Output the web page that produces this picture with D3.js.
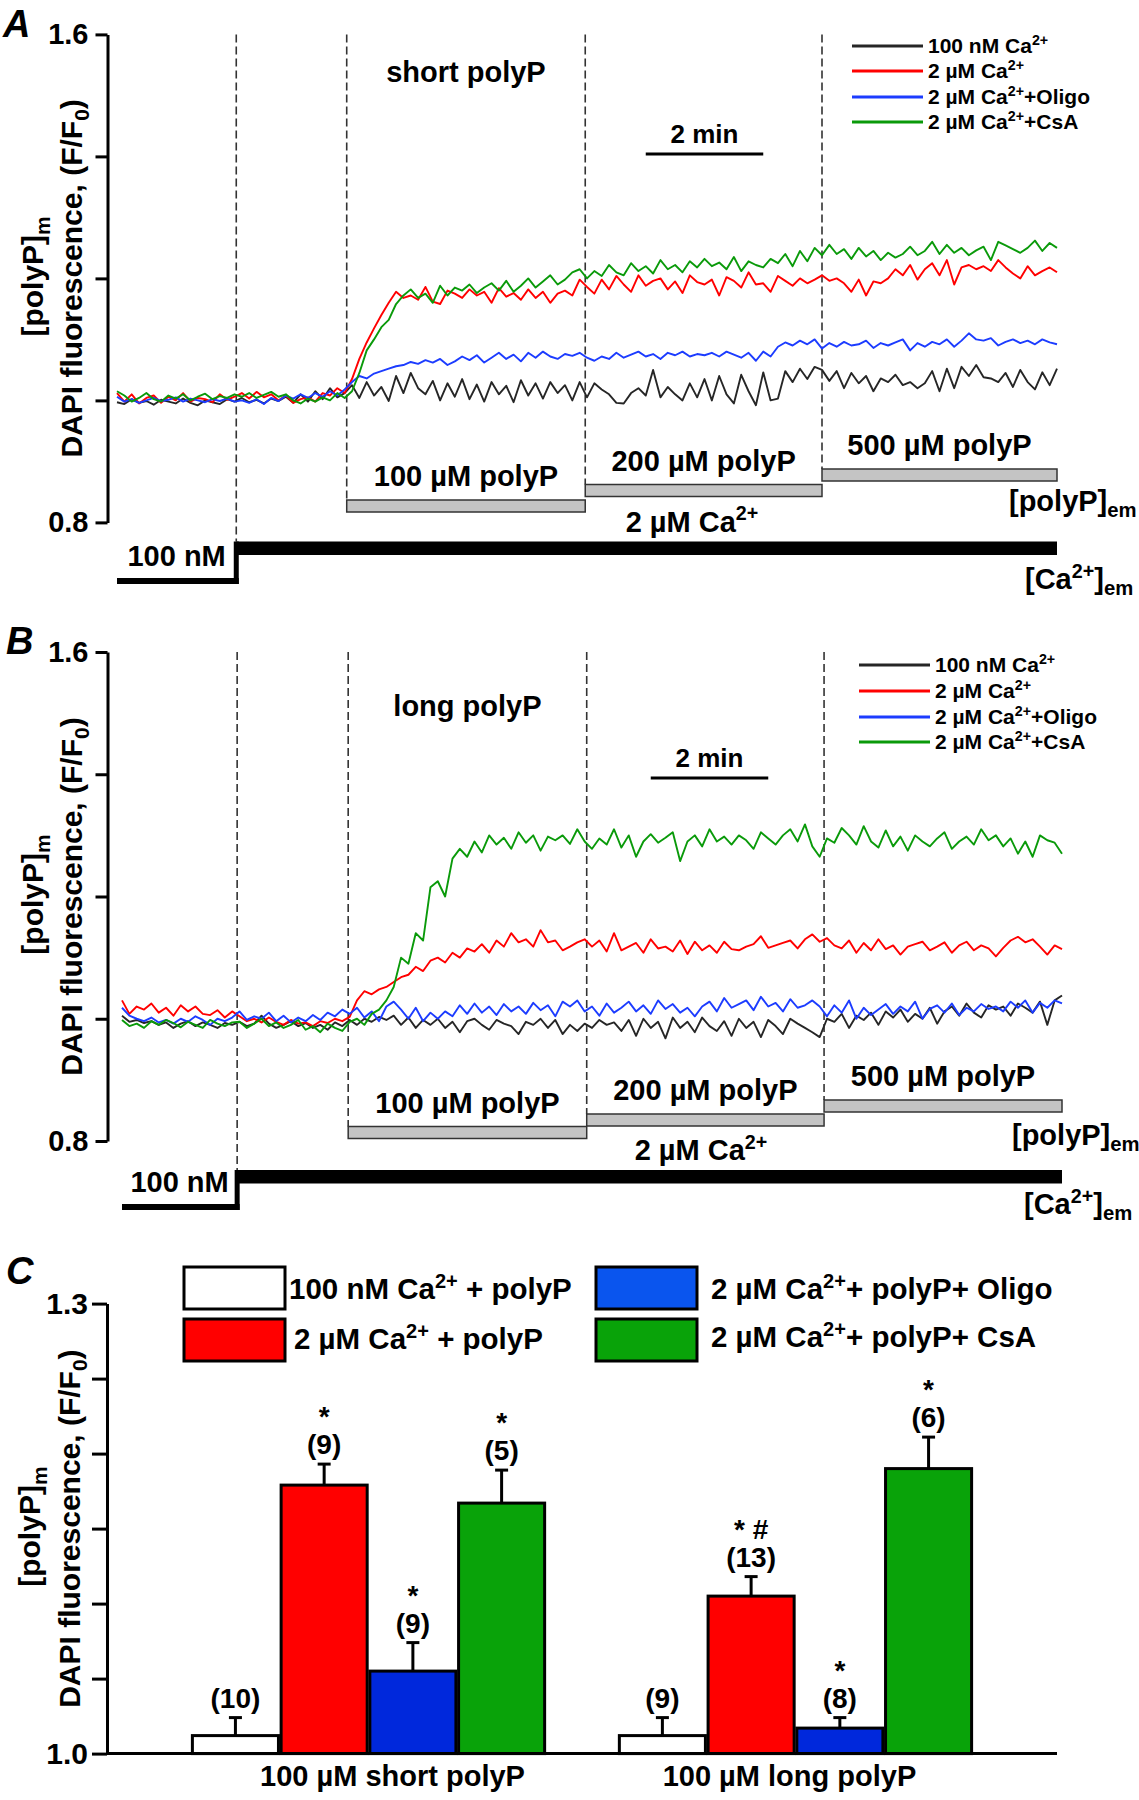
<!DOCTYPE html>
<html><head><meta charset="utf-8">
<script src="https://cdn.jsdelivr.net/npm/d3@7"></script>
<style>body{margin:0;background:#fff}</style>
</head><body>
<svg id="fig" width="1139" height="1800"></svg>
<script>
// ---------------- DATA ----------------
// sampling grid (minutes), 7.5 s steps over 16 min
const sampleTimes = d3.range(0, 16.0001, 0.125);

const traceNames = ["100 nM Ca^{2+}", "2 µM Ca^{2+}", "2 µM Ca^{2+}+Oligo", "2 µM Ca^{2+}+CsA"];
const polyPLabels = ["100 µM polyP", "200 µM polyP", "500 µM polyP"];
// event times (min): Ca switch, 100, 200, 500 µM polyP, end
const eventTimesA = [2.03, 3.91, 7.97, 12.0, 16.0];
const eventTimesB = [1.96, 3.85, 7.91, 11.95, 16.0];
const yTicksAB = [0.8, 1.0, 1.2, 1.4, 1.6];

// Panel A (short polyP), F/F0
const blackA = [
0.997,0.994,1.002,0.996,0.999,0.993,1.001,0.998,0.995,1.003,0.996,0.992,1.000,0.997,0.994,1.002,
0.998,1.004,0.997,1.001,0.995,1.003,0.999,1.006,0.996,1.010,0.998,1.015,1.002,1.020,1.005,1.012,
1.025,1.004,1.030,1.008,1.022,0.999,1.040,1.012,1.045,1.020,1.010,1.032,1.000,1.028,1.006,1.035,
1.002,1.026,0.998,1.030,1.010,1.024,0.997,1.033,1.008,1.028,1.003,1.030,1.012,1.025,1.000,1.030,
1.005,1.028,1.018,1.010,0.996,0.995,1.012,1.020,1.008,1.050,1.005,1.022,1.010,1.000,1.028,1.005,
1.035,1.000,1.040,1.010,0.995,1.042,1.015,0.992,1.046,1.000,1.003,1.048,1.030,1.052,1.035,1.055,
1.050,1.032,1.048,1.020,1.045,1.028,1.040,1.015,1.036,1.030,1.042,1.025,1.030,1.020,1.028,1.048,
1.015,1.052,1.020,1.055,1.040,1.058,1.038,1.036,1.030,1.045,1.022,1.050,1.030,1.018,1.046,1.025,
1.052];
const redA = [
1.012,0.998,1.010,0.995,1.004,1.008,0.996,1.006,1.000,1.012,0.998,1.004,1.002,0.997,1.010,1.001,
1.006,1.012,1.003,1.014,1.005,1.010,1.000,1.008,0.996,1.002,1.005,0.998,1.012,1.008,1.020,1.012,
1.035,1.068,1.095,1.118,1.140,1.160,1.178,1.168,1.172,1.165,1.186,1.162,1.158,1.180,1.175,1.168,
1.182,1.172,1.178,1.160,1.184,1.170,1.176,1.165,1.182,1.168,1.178,1.160,1.175,1.180,1.172,1.198,
1.186,1.175,1.198,1.182,1.204,1.190,1.178,1.205,1.188,1.196,1.200,1.182,1.195,1.176,1.205,1.194,
1.190,1.198,1.172,1.202,1.196,1.185,1.210,1.190,1.192,1.178,1.204,1.196,1.188,1.200,1.192,1.198,
1.205,1.196,1.200,1.192,1.178,1.198,1.172,1.195,1.192,1.200,1.215,1.205,1.222,1.198,1.215,1.225,
1.205,1.230,1.190,1.218,1.222,1.215,1.220,1.212,1.230,1.218,1.208,1.200,1.220,1.205,1.212,1.218,
1.210];
const blueA = [
1.006,0.998,1.002,0.996,1.000,1.004,0.999,1.001,1.005,0.998,1.003,1.000,0.997,1.002,0.999,1.003,
0.998,1.000,0.996,1.002,0.994,1.004,0.999,1.008,1.003,1.010,1.004,1.012,1.006,1.015,1.008,1.018,
1.030,1.040,1.036,1.044,1.048,1.052,1.056,1.058,1.063,1.060,1.066,1.062,1.068,1.058,1.064,1.072,
1.066,1.074,1.062,1.070,1.078,1.068,1.075,1.064,1.078,1.070,1.080,1.072,1.068,1.076,1.073,1.078,
1.070,1.065,1.072,1.068,1.078,1.070,1.075,1.080,1.072,1.076,1.068,1.078,1.074,1.080,1.072,1.076,
1.074,1.078,1.072,1.080,1.075,1.070,1.078,1.065,1.080,1.072,1.088,1.095,1.090,1.098,1.092,1.100,
1.085,1.094,1.088,1.096,1.090,1.092,1.098,1.086,1.094,1.090,1.095,1.100,1.082,1.094,1.088,1.096,
1.092,1.100,1.088,1.098,1.110,1.100,1.098,1.102,1.090,1.096,1.100,1.094,1.098,1.092,1.100,1.095,
1.092];
const greenA = [
1.015,1.008,0.998,1.004,1.012,1.002,0.998,1.008,1.003,1.010,1.000,1.006,1.011,1.002,1.007,1.004,
1.010,1.006,1.012,1.004,1.009,1.014,1.006,1.010,1.000,0.995,1.003,0.998,1.005,1.000,1.012,1.004,
1.015,1.045,1.082,1.100,1.120,1.132,1.158,1.172,1.182,1.168,1.175,1.160,1.188,1.172,1.185,1.180,
1.190,1.176,1.185,1.192,1.180,1.196,1.178,1.188,1.200,1.185,1.195,1.205,1.190,1.198,1.210,1.215,
1.200,1.212,1.204,1.222,1.210,1.205,1.225,1.212,1.220,1.208,1.230,1.215,1.222,1.210,1.228,1.218,
1.232,1.220,1.226,1.215,1.235,1.212,1.228,1.222,1.218,1.232,1.225,1.240,1.220,1.245,1.228,1.250,
1.238,1.255,1.240,1.248,1.232,1.250,1.236,1.245,1.230,1.242,1.234,1.240,1.252,1.238,1.245,1.260,
1.240,1.255,1.242,1.250,1.238,1.246,1.252,1.230,1.260,1.254,1.248,1.242,1.250,1.262,1.245,1.258,
1.250];

// Panel B (long polyP), F/F0
const blackB = [
1.005,0.995,0.998,0.993,0.996,0.990,0.994,0.985,0.992,0.996,0.988,0.994,0.990,0.985,0.993,0.990,
0.995,0.988,0.992,1.005,0.992,0.985,0.990,0.996,0.988,0.993,0.985,0.990,0.982,0.994,0.988,0.998,
0.990,1.000,0.995,1.003,0.998,1.005,0.990,1.002,0.985,0.998,0.990,1.000,0.985,0.995,0.978,0.996,
1.000,0.990,0.982,0.998,0.992,0.988,0.975,0.995,0.990,1.000,0.985,0.998,0.975,0.990,0.980,0.992,
0.985,0.998,0.990,0.994,0.980,0.998,0.972,1.000,0.985,0.995,0.968,1.002,0.985,0.995,0.978,1.002,
0.988,0.980,0.996,0.972,1.000,0.985,0.995,0.970,0.998,0.988,0.975,1.000,0.992,0.985,0.978,0.970,
1.000,0.995,1.008,0.985,1.005,0.998,1.010,0.990,1.012,1.002,1.015,0.995,1.008,1.000,1.018,0.992,
1.012,1.020,1.005,1.025,1.010,1.002,1.022,1.015,1.020,1.005,1.025,1.018,1.010,1.028,0.990,1.030,
1.038];
const redB = [
1.030,1.008,1.020,1.015,1.025,1.010,1.018,1.005,1.022,1.012,1.020,1.008,1.006,1.014,1.002,1.012,
1.004,0.996,1.000,0.994,1.002,0.995,0.990,0.998,0.992,0.994,0.988,0.996,0.993,1.000,0.996,1.003,
1.030,1.045,1.040,1.048,1.052,1.060,1.068,1.072,1.085,1.078,1.095,1.100,1.092,1.108,1.100,1.115,
1.110,1.122,1.108,1.128,1.118,1.140,1.125,1.130,1.118,1.145,1.125,1.128,1.112,1.118,1.125,1.130,
1.118,1.128,1.110,1.140,1.112,1.118,1.124,1.108,1.130,1.115,1.118,1.110,1.128,1.106,1.126,1.112,
1.120,1.108,1.126,1.114,1.112,1.118,1.122,1.135,1.116,1.120,1.124,1.128,1.115,1.130,1.138,1.126,
1.132,1.120,1.115,1.128,1.108,1.124,1.112,1.130,1.114,1.120,1.105,1.118,1.122,1.126,1.112,1.118,
1.125,1.108,1.120,1.126,1.112,1.120,1.115,1.102,1.116,1.128,1.134,1.125,1.130,1.118,1.105,1.120,
1.114];
const blueB = [
1.018,1.005,1.000,0.996,1.002,0.994,0.998,0.992,1.000,0.995,1.004,0.998,0.990,1.000,0.996,1.002,
1.012,0.998,1.004,1.000,1.010,0.996,1.005,0.994,1.002,0.996,1.006,0.998,1.010,1.004,1.015,1.008,
1.018,1.002,1.012,0.996,1.020,1.028,1.015,1.000,1.018,0.996,1.010,1.000,1.012,1.004,1.022,1.008,
1.025,1.010,1.020,1.006,1.024,1.012,1.020,1.008,1.026,1.014,1.022,1.004,1.028,1.020,1.030,1.012,
1.020,1.005,1.025,1.010,1.018,1.028,1.012,1.022,1.008,1.030,1.016,1.024,1.010,1.018,1.004,1.020,
1.028,1.012,1.034,1.018,1.024,1.030,1.014,1.036,1.020,1.026,1.012,1.032,1.018,1.022,1.030,1.020,
1.004,1.022,1.010,1.030,1.000,1.018,1.006,1.015,1.024,1.008,1.020,1.012,1.028,1.000,1.016,1.022,
1.010,1.025,1.006,1.018,1.012,1.024,1.016,1.020,1.012,1.028,1.018,1.030,1.010,1.026,1.018,1.030,
1.025];
const greenB = [
0.998,0.988,0.992,0.985,0.996,0.990,0.998,0.993,0.986,0.995,0.990,0.985,0.998,0.992,0.988,0.994,
0.995,0.985,0.992,1.000,0.988,0.994,0.985,0.990,0.998,0.982,0.988,0.978,0.992,0.985,0.980,0.995,
1.000,0.990,1.008,1.015,1.030,1.052,1.100,1.090,1.140,1.128,1.215,1.225,1.200,1.262,1.278,1.265,
1.290,1.272,1.300,1.285,1.296,1.278,1.305,1.288,1.300,1.275,1.298,1.292,1.300,1.286,1.310,1.290,
1.278,1.295,1.285,1.310,1.280,1.300,1.265,1.290,1.302,1.288,1.296,1.305,1.258,1.290,1.300,1.282,
1.310,1.290,1.298,1.285,1.300,1.292,1.278,1.305,1.295,1.285,1.300,1.310,1.290,1.318,1.282,1.265,
1.295,1.288,1.312,1.300,1.285,1.315,1.290,1.280,1.308,1.282,1.298,1.275,1.300,1.290,1.282,1.295,
1.305,1.278,1.290,1.298,1.285,1.310,1.292,1.300,1.282,1.295,1.270,1.290,1.265,1.300,1.292,1.288,
1.270];

// Panel C (bar chart)
const cGroups = ["100 µM short polyP", "100 µM long polyP"];
const cConditions = ["100 nM Ca^{2+} + polyP", "2 µM Ca^{2+} + polyP", "2 µM Ca^{2+}+ polyP+ Oligo", "2 µM Ca^{2+}+ polyP+ CsA"];
const cMeanShort = [1.012, 1.179, 1.055, 1.167];
const cSemShort  = [0.012, 0.014, 0.019, 0.022];
const cMeanLong  = [1.012, 1.105, 1.017, 1.190];
const cSemLong   = [0.012, 0.013, 0.007, 0.021];
const cNShort = ["(10)", "(9)", "(9)", "(5)"];
const cNLong  = ["(9)", "(13)", "(8)", "(6)"];
const cSigShort = ["", "*", "*", "*"];
const cSigLong  = ["", "* #", "*", "*"];
const cTicks = [1.0, 1.05, 1.1, 1.15, 1.2, 1.25, 1.3];

// ---------------- DRAWING ----------------
const FONT = '"Liberation Sans", Arial, Helvetica, sans-serif';
const traceColors = ["#262626", "#ff0000", "#1c3cff", "#0a9a0a"];
const barColors = ["#ffffff", "#ff0000", "#0028dc", "#09a309"];
const legendBoxColors = ["#ffffff", "#ff0000", "#0a55ee", "#09a309"];

const svg = d3.select("#fig");
svg.append("rect").attr("width", 1139).attr("height", 1800).attr("fill", "#fff");

function rich(sel, str, size) {
  const parts = str.split(/(\^\{[^}]*\}|_\{[^}]*\})/).filter(s => s.length);
  let cur = 0;
  parts.forEach(p => {
    let t = p, off = 0, fs = size;
    if (p.startsWith("^{")) { t = p.slice(2, -1); off = -0.38 * size; fs = 0.68 * size; }
    else if (p.startsWith("_{")) { t = p.slice(2, -1); off = 0.22 * size; fs = 0.7 * size; }
    sel.append("tspan").attr("dy", off - cur).attr("font-size", fs).text(t);
    cur = off;
  });
}
function txt(parent, x, y, str, size, anchor, opts) {
  opts = opts || {};
  const t = parent.append("text").attr("x", x).attr("y", y)
    .attr("font-size", size).attr("font-family", FONT).attr("font-weight", "bold")
    .attr("text-anchor", anchor || "start").attr("fill", "#000");
  if (opts.italic) t.attr("font-style", "italic");
  if (opts.rotate) t.attr("transform", `rotate(-90 ${x} ${y})`);
  rich(t, str, size);
  return t;
}

function drawTracePanel(c) {
  const g = svg.append("g");
  const x = d3.scaleLinear().domain([0, 16]).range(c.xRange);
  const y = d3.scaleLinear().domain([0.8, 1.6]).range(c.yRange);
  const ev = c.events;

  // panel letter
  txt(g, c.letterPos[0], c.letterPos[1], c.letter, 38, "start", { italic: true });

  // axis
  const axis = d3.axisLeft(y).tickValues(yTicksAB).tickSize(12).tickSizeOuter(0).tickPadding(7)
    .tickFormat(d => (d === 0.8 || d === 1.6) ? d.toFixed(1) : "");
  const ag = g.append("g").attr("transform", `translate(${c.axisX},0)`).call(axis);
  ag.select(".domain").attr("stroke", "#000").attr("stroke-width", 3);
  ag.selectAll(".tick line").attr("stroke", "#000").attr("stroke-width", 3);
  ag.selectAll(".tick text").attr("font-size", 29).attr("font-weight", "bold")
    .attr("font-family", FONT).attr("fill", "#000");

  // y titles
  const yMid = (c.yRange[0] + c.yRange[1]) / 2;
  txt(g, 82, yMid, "DAPI fluorescence, (F/F_{0})", 30, "middle", { rotate: true });
  txt(g, 43, yMid - 2, "[polyP]_{m}", 30, "middle", { rotate: true });

  // dashed event lines
  const dashBottoms = [c.caHighY, c.polyBarTops[0], c.polyBarTops[1], c.polyBarTops[2]];
  for (let k = 0; k < 4; k++) {
    g.append("line").attr("x1", x(ev[k])).attr("x2", x(ev[k]))
      .attr("y1", y(1.6)).attr("y2", dashBottoms[k])
      .attr("stroke", "#333").attr("stroke-width", 1.6).attr("stroke-dasharray", "8,4");
  }

  // traces
  const series = c.series;
  const line = d3.line().x((d, i) => x(sampleTimes[i])).y(d => y(d));
  series.forEach((s, k) => {
    g.append("path").datum(s).attr("d", line).attr("fill", "none")
      .attr("stroke", traceColors[k]).attr("stroke-width", 1.9).attr("stroke-linejoin", "round");
  });

  // title
  txt(g, (x(ev[1]) + x(ev[2])) / 2, c.titleY, c.title, 29, "middle");

  // 2 min scale bar
  g.append("line").attr("x1", x(9)).attr("x2", x(11)).attr("y1", c.scaleBarY).attr("y2", c.scaleBarY)
    .attr("stroke", "#000").attr("stroke-width", 3);
  txt(g, (x(9) + x(11)) / 2, c.scaleBarY - 11, "2 min", 26, "middle");

  // legend
  traceNames.forEach((n, k) => {
    const ly = c.legendY[k];
    g.append("line").attr("x1", c.legendX).attr("x2", c.legendX + 71).attr("y1", ly).attr("y2", ly)
      .attr("stroke", traceColors[k]).attr("stroke-width", 3);
    txt(g, c.legendX + 76, ly + 7, n, 21, "start");
  });

  // polyP application bars
  polyPLabels.forEach((lab, k) => {
    const x0 = x(ev[k + 1]), x1 = x(ev[k + 2]), top = c.polyBarTops[k];
    g.append("rect").attr("x", x0).attr("y", top).attr("width", x1 - x0).attr("height", 12)
      .attr("fill", "#c4c4c4").attr("stroke", "#333").attr("stroke-width", 1.5);
    txt(g, (x0 + x1) / 2, top - 14, lab, 29, "middle");
  });
  txt(g, c.polyEmX, c.polyEmY, "[polyP]_{em}", 29, "start");

  // Ca2+ protocol
  const xc = x(ev[0]);
  g.append("rect").attr("x", x(0)).attr("y", c.caLowY).attr("width", xc - x(0) + 2.5).attr("height", 6).attr("fill", "#000");
  g.append("rect").attr("x", xc - 2.5).attr("y", c.caHighY).attr("width", 5).attr("height", c.caLowY + 6 - c.caHighY).attr("fill", "#000");
  g.append("rect").attr("x", xc).attr("y", c.caHighY).attr("width", x(ev[4]) - xc).attr("height", 13.5).attr("fill", "#000");
  txt(g, (x(0) + xc) / 2, c.caLowY - 12, "100 nM", 29, "middle");
  txt(g, c.caLabelX, c.caHighY - 10, "2 µM Ca^{2+}", 29, "middle");
  txt(g, c.caEmX, c.caEmY, "[Ca^{2+}]_{em}", 29, "start");
}

drawTracePanel({
  letter: "A", letterPos: [3, 37],
  xRange: [117, 1057], yRange: [522.4, 34.4], axisX: 107.5,
  events: eventTimesA, series: [blackA, redA, blueA, greenA],
  title: "short polyP", titleY: 82, scaleBarY: 154,
  legendX: 852, legendY: [46, 71, 97, 122],
  polyBarTops: [500, 484.5, 469], polyEmX: 1009, polyEmY: 511,
  caHighY: 541.5, caLowY: 578, caLabelX: 692, caEmX: 1025, caEmY: 589
});
drawTracePanel({
  letter: "B", letterPos: [6, 654],
  xRange: [122, 1062], yRange: [1141, 652], axisX: 107.5,
  events: eventTimesB, series: [blackB, redB, blueB, greenB],
  title: "long polyP", titleY: 716, scaleBarY: 778,
  legendX: 859, legendY: [665, 691, 717, 742],
  polyBarTops: [1126.5, 1114, 1100], polyEmX: 1012, polyEmY: 1145,
  caHighY: 1170, caLowY: 1204, caLabelX: 701, caEmX: 1024, caEmY: 1214
});

// ---------------- Panel C ----------------
(function () {
  const g = svg.append("g");
  const y = d3.scaleLinear().domain([1.0, 1.3]).range([1753.6, 1303.6]);
  const xG = d3.scaleBand().domain(cGroups).range([107, 1057]).paddingInner(0.175).paddingOuter(0.2);
  const xC = d3.scaleBand().domain(cConditions).range([0, xG.bandwidth()]).paddingInner(0.03);

  txt(g, 6, 1284, "C", 38, "start", { italic: true });

  const axis = d3.axisLeft(y).tickValues(cTicks).tickSize(15).tickSizeOuter(0).tickPadding(4)
    .tickFormat(d => (d === 1.0 || d === 1.3) ? d.toFixed(1) : "");
  const ag = g.append("g").attr("transform", "translate(107,0)").call(axis);
  ag.select(".domain").attr("stroke", "#000").attr("stroke-width", 3);
  ag.selectAll(".tick line").attr("stroke", "#000").attr("stroke-width", 3);
  ag.selectAll(".tick text").attr("font-size", 30).attr("font-weight", "bold")
    .attr("font-family", FONT).attr("fill", "#000");

  const yMid = (y(1.0) + y(1.3)) / 2;
  txt(g, 80, yMid, "DAPI fluorescence, (F/F_{0})", 30, "middle", { rotate: true });
  txt(g, 40, yMid - 2, "[polyP]_{m}", 30, "middle", { rotate: true });

  const groups = [
    { name: cGroups[0], mean: cMeanShort, sem: cSemShort, n: cNShort, sig: cSigShort, dx: 24 },
    { name: cGroups[1], mean: cMeanLong, sem: cSemLong, n: cNLong, sig: cSigLong, dx: -6 }
  ];
  groups.forEach(gr => {
    const gx = xG(gr.name);
    cConditions.forEach((cond, k) => {
      const bx = gx + xC(cond), bw = xC.bandwidth();
      const top = y(gr.mean[k]), errTop = y(gr.mean[k] + gr.sem[k]);
      const cx = bx + bw / 2;
      g.append("line").attr("x1", cx).attr("x2", cx).attr("y1", top).attr("y2", errTop)
        .attr("stroke", "#000").attr("stroke-width", 3);
      g.append("line").attr("x1", cx - 6.5).attr("x2", cx + 6.5).attr("y1", errTop).attr("y2", errTop)
        .attr("stroke", "#000").attr("stroke-width", 3);
      g.append("rect").attr("x", bx).attr("y", top).attr("width", bw).attr("height", y(1.0) - top)
        .attr("fill", barColors[k]).attr("stroke", "#000").attr("stroke-width", 3);
      txt(g, cx, errTop - 10, gr.n[k], 28, "middle");
      if (gr.sig[k]) txt(g, cx, errTop - 38, gr.sig[k], 28, "middle");
    });
    txt(g, gx + xG.bandwidth() / 2 + gr.dx, 1786, gr.name, 29, "middle");
  });

  // baseline
  g.append("line").attr("x1", 107).attr("x2", 1057).attr("y1", y(1.0)).attr("y2", y(1.0))
    .attr("stroke", "#000").attr("stroke-width", 3);

  // legend
  const boxPos = [[184, 1267], [184, 1319], [596, 1267], [596, 1319]];
  const textPos = [[289, 1299], [294, 1349], [711, 1299], [711, 1347]];
  cConditions.forEach((cond, k) => {
    g.append("rect").attr("x", boxPos[k][0]).attr("y", boxPos[k][1]).attr("width", 101).attr("height", 42)
      .attr("fill", legendBoxColors[k]).attr("stroke", "#000").attr("stroke-width", 3);
    txt(g, textPos[k][0], textPos[k][1], cond, 29.5, "start");
  });
})();
</script>
</body></html>
